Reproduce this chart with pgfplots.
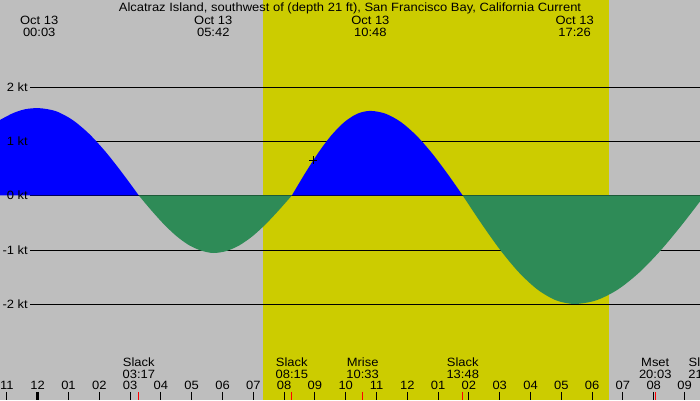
\documentclass[border=0pt]{standalone}
\usepackage{fontspec}
\setmainfont[FakeStretch=1.08]{Liberation Sans}
\usepackage{pgfplots}
\pgfplotsset{compat=1.18}
\definecolor{bg}{RGB}{190,190,190}
\definecolor{day}{RGB}{204,204,0}
\definecolor{flood}{RGB}{0,0,255}
\definecolor{ebb}{RGB}{46,139,87}
\definecolor{evt}{RGB}{255,0,0}

\begin{document}
\begin{tikzpicture}[font=\fontsize{12}{14}\selectfont]
\begin{axis}[
  width=700pt, height=400pt, scale only axis,
  xmin=-1.224, xmax=21.503, ymin=-3.770, ymax=3.604,
  axis lines=none, clip=true, clip mode=global,
]
% background: night and daylight
\fill[bg]  (axis cs:-1.224,-3.770) rectangle (axis cs:21.503,3.604);
\fill[day] (axis cs:7.30,-3.770) rectangle (axis cs:18.55,3.604);

% speed reference lines
\draw[black] (axis cs:-0.25,2)  -- (axis cs:21.503,2);
\draw[black] (axis cs:-0.25,1)  -- (axis cs:21.503,1);
\draw[black] (axis cs:-0.25,0)  -- (axis cs:21.503,0);
\draw[black] (axis cs:-0.25,-1) -- (axis cs:21.503,-1);
\draw[black] (axis cs:-0.25,-2) -- (axis cs:21.503,-2);

% flood (positive) lobes
\addplot[draw=none, fill=flood, smooth] coordinates {
  (-1.224,1.393) (-0.8,1.518) (-0.4,1.591) (0.05,1.61)
  (0.589,1.555) (1.128,1.394) (1.667,1.138) (2.205,0.805) (2.744,0.417) (3.283,0)
} \closedcycle;
\addplot[draw=none, fill=flood, smooth] coordinates {
  (8.25,0) (8.675,0.404) (9.10,0.78) (9.525,1.103) (9.95,1.351) (10.375,1.507) (10.80,1.56)
  (11.3,1.507) (11.8,1.351) (12.3,1.103) (12.8,0.78) (13.3,0.404) (13.8,0)
} \closedcycle;

% ebb (negative) lobes
\addplot[draw=none, fill=ebb, smooth] coordinates {
  (3.283,0) (3.686,-0.272) (4.089,-0.525) (4.492,-0.742) (4.894,-0.909) (5.297,-1.014) (5.70,-1.06)
  (6.125,-1.024) (6.55,-0.918) (6.975,-0.750) (7.40,-0.530) (7.825,-0.274) (8.25,0)
} \closedcycle;
\addplot[draw=none, fill=ebb, smooth] coordinates {
  (13.8,0) (14.406,-0.518) (15.011,-1.0) (15.617,-1.414) (16.222,-1.732) (16.828,-1.932) (17.433,-2.0)
  (18.136,-1.932) (18.839,-1.732) (19.541,-1.414) (20.244,-1.0) (20.947,-0.518) (21.65,0)
} \closedcycle;

% current time marker
\addplot[only marks, mark=+, mark size=4pt, black, thin] coordinates {(8.95,0.65)};

% speed labels
\node[anchor=base east, inner sep=0pt] at (axis cs:-0.315,1.92)  {2 kt};
\node[anchor=base east, inner sep=0pt] at (axis cs:-0.315,0.92)  {1 kt};
\node[anchor=base east, inner sep=0pt] at (axis cs:-0.315,-0.08) {0 kt};
\node[anchor=base east, inner sep=0pt] at (axis cs:-0.315,-1.08) {-1 kt};
\node[anchor=base east, inner sep=0pt] at (axis cs:-0.315,-2.08) {-2 kt};

% title and extrema times
\node[anchor=base, inner sep=0pt] at (axis cs:10.14,3.388) {Alcatraz Island, southwest of (depth 21 ft), San Francisco Bay, California Current};
\node[anchor=base, inner sep=0pt] at (axis cs:0.05,3.161)   {Oct 13};
\node[anchor=base, inner sep=0pt] at (axis cs:0.05,2.940)   {00:03};
\node[anchor=base, inner sep=0pt] at (axis cs:5.70,3.161)   {Oct 13};
\node[anchor=base, inner sep=0pt] at (axis cs:5.70,2.940)   {05:42};
\node[anchor=base, inner sep=0pt] at (axis cs:10.80,3.161)  {Oct 13};
\node[anchor=base, inner sep=0pt] at (axis cs:10.80,2.940)  {10:48};
\node[anchor=base, inner sep=0pt] at (axis cs:17.433,3.161) {Oct 13};
\node[anchor=base, inner sep=0pt] at (axis cs:17.433,2.940) {17:26};

% slack and moon events
\node[anchor=base, inner sep=0pt] at (axis cs:3.283,-3.156) {Slack};
\node[anchor=base, inner sep=0pt] at (axis cs:3.283,-3.366) {03:17};
\node[anchor=base, inner sep=0pt] at (axis cs:8.25,-3.156)  {Slack};
\node[anchor=base, inner sep=0pt] at (axis cs:8.25,-3.366)  {08:15};
\node[anchor=base, inner sep=0pt] at (axis cs:10.55,-3.156) {Mrise};
\node[anchor=base, inner sep=0pt] at (axis cs:10.55,-3.366) {10:33};
\node[anchor=base, inner sep=0pt] at (axis cs:13.8,-3.156)  {Slack};
\node[anchor=base, inner sep=0pt] at (axis cs:13.8,-3.366)  {13:48};
\node[anchor=base, inner sep=0pt] at (axis cs:20.05,-3.156) {Mset};
\node[anchor=base, inner sep=0pt] at (axis cs:20.05,-3.366) {20:03};
\node[anchor=base, inner sep=0pt] at (axis cs:21.65,-3.156) {Slack};
\node[anchor=base, inner sep=0pt] at (axis cs:21.65,-3.366) {21:39};

% hour labels
\node[anchor=base, inner sep=0pt] at (axis cs:-1,-3.578) {11};
\node[anchor=base, inner sep=0pt] at (axis cs:0,-3.578)  {12};
\node[anchor=base, inner sep=0pt] at (axis cs:1,-3.578)  {01};
\node[anchor=base, inner sep=0pt] at (axis cs:2,-3.578)  {02};
\node[anchor=base, inner sep=0pt] at (axis cs:3,-3.578)  {03};
\node[anchor=base, inner sep=0pt] at (axis cs:4,-3.578)  {04};
\node[anchor=base, inner sep=0pt] at (axis cs:5,-3.578)  {05};
\node[anchor=base, inner sep=0pt] at (axis cs:6,-3.578)  {06};
\node[anchor=base, inner sep=0pt] at (axis cs:7,-3.578)  {07};
\node[anchor=base, inner sep=0pt] at (axis cs:8,-3.578)  {08};
\node[anchor=base, inner sep=0pt] at (axis cs:9,-3.578)  {09};
\node[anchor=base, inner sep=0pt] at (axis cs:10,-3.578) {10};
\node[anchor=base, inner sep=0pt] at (axis cs:11,-3.578) {11};
\node[anchor=base, inner sep=0pt] at (axis cs:12,-3.578) {12};
\node[anchor=base, inner sep=0pt] at (axis cs:13,-3.578) {01};
\node[anchor=base, inner sep=0pt] at (axis cs:14,-3.578) {02};
\node[anchor=base, inner sep=0pt] at (axis cs:15,-3.578) {03};
\node[anchor=base, inner sep=0pt] at (axis cs:16,-3.578) {04};
\node[anchor=base, inner sep=0pt] at (axis cs:17,-3.578) {05};
\node[anchor=base, inner sep=0pt] at (axis cs:18,-3.578) {06};
\node[anchor=base, inner sep=0pt] at (axis cs:19,-3.578) {07};
\node[anchor=base, inner sep=0pt] at (axis cs:20,-3.578) {08};
\node[anchor=base, inner sep=0pt] at (axis cs:21,-3.578) {09};

% hour ticks
\pgfplotsinvokeforeach{-1,1,2,3,4,5,6,7,8,9,10,11,12,13,14,15,16,17,18,19,20,21}{
  \draw[black, line width=1pt] (axis cs:#1,-3.618) -- (axis cs:#1,-3.770);
}
\draw[black, line width=3pt] (axis cs:0,-3.618) -- (axis cs:0,-3.770);
% event ticks
\pgfplotsinvokeforeach{3.283,8.25,10.55,13.8,20.05}{
  \draw[evt, line width=1pt] (axis cs:#1,-3.618) -- (axis cs:#1,-3.770);
}
\end{axis}
\pgfresetboundingbox
\path[use as bounding box] (current axis.south west) rectangle (current axis.north east);
\end{tikzpicture}
\end{document}
